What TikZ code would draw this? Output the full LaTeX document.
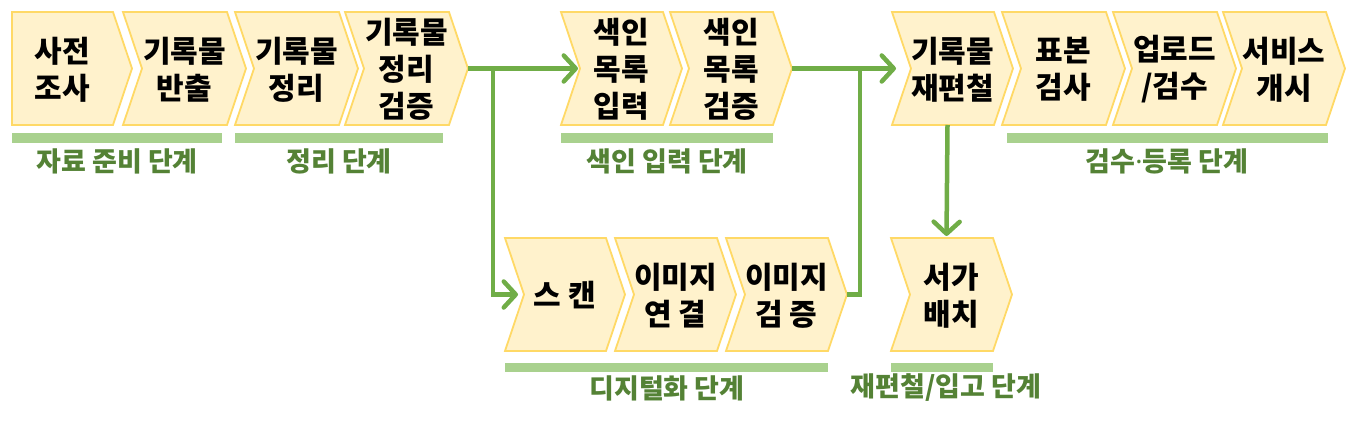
\documentclass[tikz,border=0pt]{standalone}
\usepackage{fontspec}
\newfontfamily\kr{Noto Sans CJK KR}
\newfontfamily\latin{Noto Sans}
\usetikzlibrary{arrows.meta}
\definecolor{boxfill}{HTML}{FFF2CC}
\definecolor{boxline}{HTML}{FFD966}
\definecolor{flow}{HTML}{70AD47}
\definecolor{barc}{HTML}{A9D18E}
\definecolor{lblc}{HTML}{548235}
\tikzset{
 chevron/.style={fill=boxfill, draw=boxline, line width=1.8pt, line join=miter},
 boxtext/.style={font=\kr\bfseries\fontsize{30}{37}\selectfont, align=center, inner sep=0pt, text=black},
 lbl/.style={font=\kr\bfseries\fontsize{27}{30}\selectfont, text=lblc, inner sep=0pt},
 flowline/.style={draw=flow, line width=4.5pt},
 flowarrow/.style={flowline, -{Straight Barb[length=12pt,width=26pt,round]}},
 bar/.style={fill=barc}
}
% name, L, R, top, text
\newcommand\chev[5]{%
 \draw[chevron] (#2,#4) -- (#3,#4) -- (#3+19,#4+56.5) -- (#3,#4+113) -- (#2,#4+113) -- (#2+19,#4+56.5) -- cycle;
 \coordinate (#1-tip) at (#3+19,#4+56.5);
 \coordinate (#1-notch) at (#2+19,#4+56.5);
 \coordinate (#1-bot) at ({(#2+#3+19)/2-5},#4+113);
 \coordinate (#1-top) at ({(#2+#3+19)/2-5},#4);
 \node[boxtext] (#1) at ({(#2+#3+19)/2},#4+57.5) {#5};
}
\begin{document}
\begin{tikzpicture}[x=1pt,y=-1pt]
\useasboundingbox (0,0) rectangle (1356,422);
% first box (flat left)
\draw[chevron] (12,12) -- (113,12) -- (132,68.5) -- (113,125) -- (12,125) -- cycle;
\coordinate (b1-tip) at (132,68.5);
\node[boxtext] (b1) at (62.5,69.5) {사전\\조사};
\chev{b2}{123}{227}{12}{기록물\\반출}
\chev{b3}{235}{339}{12}{기록물\\정리}
\chev{b4}{345}{449}{12}{기록물\\정리\\검증}
\chev{b5}{561}{663}{12}{색인\\목록\\입력}
\chev{b6}{670}{773}{12}{색인\\목록\\검증}
\chev{b7}{892}{994}{12}{기록물\\재편철}
\chev{b8}{1002}{1106}{12}{표본\\검사}
\chev{b9}{1113}{1217}{12}{업로드\\/검수}
\chev{b10}{1223}{1326}{12}{서비스\\개시}
\chev{c1}{505}{606}{238}{스 캔}
\chev{c2}{615}{717}{238}{이미지\\연 결}
\chev{c3}{726}{828}{238}{이미지\\검 증}
\chev{d1}{891}{993}{238}{서가\\배치}
% bars and labels
\fill[bar] (12,133) rectangle (222,143);
\node[lbl] (l1) at (117,161) {자료 준비 단계};
\fill[bar] (235,133) rectangle (443,143);
\node[lbl] (l2) at (339,161) {정리 단계};
\fill[bar] (561,133) rectangle (773,143);
\node[lbl] (l3) at (667,161) {색인 입력 단계};
\fill[bar] (1007,133) rectangle (1328,143);
\node[lbl] (l4) at (1167,161) {검수{\latin\bfseries·}등록 단계};
\fill[bar] (505,363) rectangle (828,372);
\node[lbl] (l5) at (667,388) {디지털화 단계};
\fill[bar] (891,363) rectangle (993,372);
\node[lbl] (l6) at (946,388) {재편철/입고 단계};
% connectors
\coordinate (j1) at (493,68.5);
\coordinate (j2) at (860,68.5);
\draw[flowarrow, shorten >=2pt] (b4-tip) -- (b5-notch);
\draw[flowarrow, shorten >=6pt] (j1) |- (c1-notch);
\draw[flowarrow, shorten >=15pt] (b6-tip) -- (b7-notch);
\draw[flowline] (c3-tip) -| (j2);
\draw[flowarrow, shorten >=2pt] (b7-bot) -- (d1-top);
\end{tikzpicture}
\end{document}
